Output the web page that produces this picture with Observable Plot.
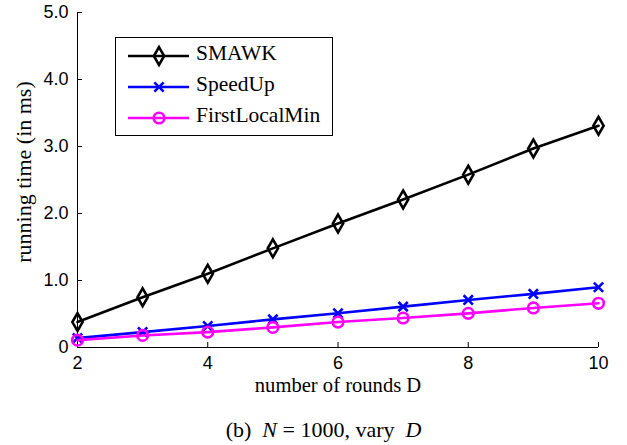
<!DOCTYPE html>
<html>
<head>
<meta charset="utf-8">
<script src="https://cdn.jsdelivr.net/npm/d3@7"></script>
<script src="https://cdn.jsdelivr.net/npm/@observablehq/plot@0.6"></script>
<style>
  body { margin: 0; background: #fff; }
  #wrap { position: relative; width: 627px; height: 445px; background: #fff; }
  #legend { position: absolute; left: 115px; top: 37px; width: 216px; height: 97px; border: 1.3px solid #000; background: #fff; box-sizing: content-box; }
  .row { position: absolute; left: 0; height: 30px; width: 216px; }
  .row svg { position: absolute; left: 0; top: 0; }
  .row span { position: absolute; left: 80px; top: 0; line-height: 30px; font: 21.5px "Liberation Serif", "Times New Roman", serif; }
  #caption { position: absolute; left: 0; width: 647px; top: 419px; text-align: center; font: 22px/22px "Liberation Serif", "Times New Roman", serif; }
</style>
</head>
<body>
<div id="wrap"></div>
<script>
const rounds = [2, 3, 4, 5, 6, 7, 8, 9, 10];
const smawk = [0.38, 0.75, 1.10, 1.48, 1.85, 2.21, 2.58, 2.97, 3.31];
const speedUp = [0.14, 0.23, 0.32, 0.42, 0.51, 0.61, 0.71, 0.80, 0.90];
const firstLocalMin = [0.11, 0.18, 0.23, 0.30, 0.38, 0.44, 0.51, 0.59, 0.66];
const seriesNames = ["SMAWK", "SpeedUp", "FirstLocalMin"];
const seriesColors = ["#000000", "#0000ff", "#ff00ff"];
const seriesSymbols = ["diamond", "times", "circle"];
const seriesR = [5.4, 4.3, 5.3];
const xTicks = [2, 4, 6, 8, 10];
const yTicks = [0, 1, 2, 3, 4, 5];
const xLabel = "number of rounds D";
const yLabel = "running time (in ms)";

const seriesValues = [smawk, speedUp, firstLocalMin];
const rows = seriesNames.map((name, i) => rounds.map((d, j) => ({series: name, D: d, t: seriesValues[i][j]})));

const sans = "'Liberation Sans', Arial, Helvetica, sans-serif";
const serif = "'Liberation Serif', 'Times New Roman', serif";

const marks = [];
rows.forEach((data, i) => {
  marks.push(Plot.line(data, {x: "D", y: "t", stroke: seriesColors[i], strokeWidth: 2.6}));
  marks.push(Plot.dot(data, {x: "D", y: "t", symbol: seriesSymbols[i], r: seriesR[i], stroke: seriesColors[i], strokeWidth: 2.6, fill: "none"}));
});

const chart = Plot.plot({
  width: 627,
  height: 400,
  marginLeft: 77,
  marginRight: 29,
  marginTop: 12,
  marginBottom: 53,
  style: {fontFamily: serif, background: "transparent", overflow: "visible"},
  x: {domain: [2, 10]},
  y: {domain: [0, 5]},
  marks: [
    Plot.axisY({ticks: yTicks, tickSize: 0, tickPadding: 9, tickFormat: d => d === 0 ? "0" : d.toFixed(1), fontSize: 18, fontFamily: sans, label: null}),
    Plot.axisY({ticks: yTicks, tickSize: -5, tickFormat: () => "", label: null}),
    Plot.axisX({ticks: xTicks, tickSize: 0, tickPadding: 9, fontSize: 18, fontFamily: sans, label: null}),
    Plot.axisX({ticks: xTicks, tickSize: -5, tickFormat: () => "", label: null}),
    Plot.ruleX([2], {stroke: "#000", strokeWidth: 1}),
    Plot.ruleY([0], {stroke: "#000", strokeWidth: 1}),
    ...marks,
    Plot.text([xLabel], {frameAnchor: "bottom", dy: 44, fontSize: 20.6, fontFamily: serif, fill: "#000"}),
    Plot.text([yLabel], {frameAnchor: "left", textAnchor: "middle", rotate: -90, dx: -54, dy: -8, fontSize: 22, fontFamily: serif, fill: "#000"})
  ]
});

const wrap = document.getElementById("wrap");
wrap.appendChild(chart);

// legend
const legend = document.createElement("div");
legend.id = "legend";
const rowCenters = [18, 49, 80];
seriesNames.forEach((name, i) => {
  const row = document.createElement("div");
  row.className = "row";
  row.style.top = (rowCenters[i] - 15) + "px";
  const svg = d3.create("svg").attr("width", 80).attr("height", 30);
  svg.append("line").attr("x1", 12).attr("x2", 73).attr("y1", 15).attr("y2", 15)
    .attr("stroke", seriesColors[i]).attr("stroke-width", 2.6);
  const symType = {diamond: d3.symbolDiamond, times: d3.symbolTimes, circle: d3.symbolCircle}[seriesSymbols[i]];
  svg.append("path").attr("transform", "translate(43,15)")
    .attr("d", d3.symbol(symType, Math.PI * seriesR[i] * seriesR[i])())
    .attr("fill", "none").attr("stroke", seriesColors[i]).attr("stroke-width", 2.6);
  row.appendChild(svg.node());
  const span = document.createElement("span");
  span.textContent = name;
  row.appendChild(span);
  legend.appendChild(row);
});
wrap.appendChild(legend);

// caption
const cap = document.createElement("div");
cap.id = "caption";
cap.innerHTML = '(b)&nbsp; <i>N</i> = 1000, vary&nbsp; <i>D</i>';
wrap.appendChild(cap);
</script>
</body>
</html>
